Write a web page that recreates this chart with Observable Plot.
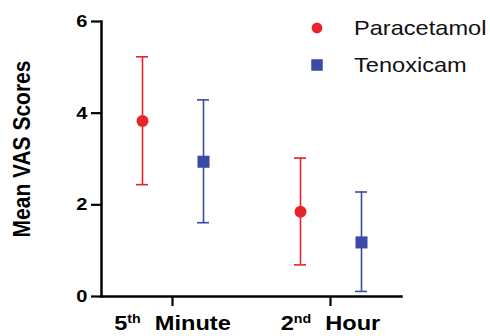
<!DOCTYPE html>
<html><head><meta charset="utf-8">
<script src="https://cdn.jsdelivr.net/npm/d3@7"></script>
<script src="https://cdn.jsdelivr.net/npm/@observablehq/plot@0.6"></script>
<style>
body{margin:0;background:#fff;font-family:"Liberation Sans",Arial,sans-serif}
#wrap{position:relative;width:490px;height:336px;overflow:hidden}
#legend{position:absolute;left:0;top:0;width:490px;height:336px;pointer-events:none}
</style></head><body><div id="wrap"></div>
<script>
const groups = ["5th Minute", "2nd Hour"];
const series = ["Paracetamol", "Tenoxicam"];
const paracetamolMean = [3.83, 1.85];
const paracetamolLow = [2.44, 0.69];
const paracetamolHigh = [5.23, 3.02];
const tenoxicamMean = [2.94, 1.18];
const tenoxicamLow = [1.61, 0.11];
const tenoxicamHigh = [4.29, 2.28];
const yTicks = [0, 2, 4, 6];
const colors = ["#e8232b", "#3a4aa6"];
const symbols = ["circle", "square"];

const stats = [
  {mean: paracetamolMean, low: paracetamolLow, high: paracetamolHigh},
  {mean: tenoxicamMean, low: tenoxicamLow, high: tenoxicamHigh}
];
const rowsBySeries = series.map((s, i) => groups.map((g, j) => ({
  group: g, series: s, mean: stats[i].mean[j], low: stats[i].low[j], high: stats[i].high[j]
})));
const offsets = [-30, 31];
const radii = [6, 6.8];

const marks = [];
rowsBySeries.forEach((rows, i) => {
  const o = {x: "group", stroke: colors[i], strokeWidth: 1.6, dx: offsets[i]};
  marks.push(Plot.ruleX(rows, {...o, y1: "low", y2: "high"}));
  marks.push(Plot.tickY(rows, {...o, y: "low"}));
  marks.push(Plot.tickY(rows, {...o, y: "high"}));
  marks.push(Plot.dot(rows, {x: "group", y: "mean", dx: offsets[i], fill: colors[i], stroke: "none", symbol: () => symbols[i], r: radii[i]}));
});

const chart = Plot.plot({
  width: 490, height: 336,
  marginLeft: 101, marginRight: 89, marginTop: 21, marginBottom: 40,
  style: {fontFamily: '"Liberation Sans", Arial, sans-serif', color: "#000", background: "#fff"},
  x: {type: "band", domain: groups, paddingInner: 0.9245, paddingOuter: 0.4058},
  y: {domain: [0, 6]},
  marks: [
    ...marks,
    Plot.axisY({ticks: yTicks, tickFormat: d => String(d), tickSize: 10, tickPadding: 4, fontSize: 17, fontWeight: "bold",
      strokeWidth: 2.2, stroke: "#000", strokeOpacity: 1, fill: "#000", label: null}),
    Plot.axisY({ticks: [], label: "Mean VAS Scores", labelAnchor: "center", labelOffset: 89, labelArrow: "none",
      fontSize: 21, fontWeight: "bold", fill: "#000"}),
    Plot.axisX({tickSize: 10, tickPadding: 9, fontSize: 20, fontWeight: "bold", strokeWidth: 2.2, stroke: "#000", strokeOpacity: 1, fill: "#000", label: null}),
    Plot.frame({anchor: "left", strokeWidth: 2.5, stroke: "#000"}),
    Plot.frame({anchor: "bottom", strokeWidth: 2.5, stroke: "#000"})
  ]
});
document.getElementById("wrap").appendChild(chart);

const svg = d3.select(chart);
svg.selectAll("text").each(function() {
  const t = this.getAttribute("transform") || "";
  const txt = this.textContent;
  if (txt === "Mean VAS Scores") {
    this.setAttribute("transform", t + " translate(10,0) scale(1,1.15)");
    this.setAttribute("font-size", 21);
    this.setAttribute("font-weight", "bold");
    return;
  }
  if (yTicks.map(String).includes(txt)) {
    this.setAttribute("transform", t + " scale(1.18,1)");
    return;
  }
  const m = txt.match(/^(\d+)(st|nd|rd|th)\s+(.*)$/);
  if (!m) return;
  this.setAttribute("transform", t + " scale(1.18,1)");
  const el = d3.select(this);
  el.text(null);
  el.append("tspan").text(m[1]);
  el.append("tspan").attr("font-size", 12).attr("dy", -7).text(m[2]);
  el.append("tspan").attr("dy", 7).attr("dx", 12).text(m[3]);
});

// Legend
const leg = d3.select("#wrap").append("svg").attr("id", "legend").attr("width", 490).attr("height", 336);
series.forEach((s, i) => {
  const cy = 28 + i * 37;
  const g = leg.append("g").attr("transform", `translate(317,${cy})`);
  g.append("path").attr("d", d3.symbol(i === 0 ? d3.symbolCircle : d3.symbolSquare, i === 0 ? Math.PI * 5.4 * 5.4 : 11.5 * 11.5)()).attr("fill", colors[i]);
  leg.append("text").attr("transform", `translate(354,${cy}) scale(1.18,1)`).attr("dy", "0.36em")
    .attr("font-size", 20).attr("font-family", '"Liberation Sans", Arial, sans-serif').attr("fill", "#111").text(s);
});
</script></body></html>
